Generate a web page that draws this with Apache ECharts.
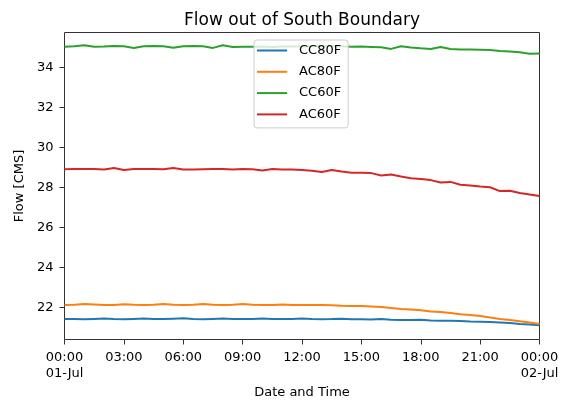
<!DOCTYPE html>
<html>
<head>
<meta charset="utf-8">
<script src="https://cdn.jsdelivr.net/npm/echarts@6/dist/echarts.min.js"></script>
<style>
  html, body { margin: 0; padding: 0; background: #fff; }
  #chart { width: 569px; height: 405px; }
</style>
</head>
<body>
<div id="chart"></div>
<script>
// Half-hourly flow at the south boundary, 01-Jul 00:00 to 02-Jul 00:00
const startMs = Date.UTC(2019, 6, 1, 0, 0);
const stepMs = 30 * 60 * 1000;

const seriesNames = ['CC80F', 'AC80F', 'CC60F', 'AC60F'];
const seriesColors = ['#1f77b4', '#ff7f0e', '#2ca02c', '#d62728'];

const cc80f = [21.42, 21.42, 21.41, 21.43, 21.45, 21.42, 21.41, 21.43, 21.45, 21.42,
  21.42, 21.44, 21.46, 21.42, 21.41, 21.43, 21.45, 21.42, 21.42, 21.42,
  21.45, 21.42, 21.42, 21.43, 21.45, 21.42, 21.41, 21.42, 21.44, 21.41,
  21.41, 21.40, 21.42, 21.39, 21.38, 21.37, 21.39, 21.35, 21.34, 21.34,
  21.33, 21.30, 21.29, 21.27, 21.25, 21.22, 21.18, 21.15, 21.11];

const ac80f = [22.13, 22.14, 22.17, 22.15, 22.13, 22.13, 22.16, 22.14, 22.13, 22.14,
  22.17, 22.14, 22.13, 22.14, 22.17, 22.14, 22.13, 22.14, 22.17, 22.14,
  22.13, 22.13, 22.15, 22.13, 22.12, 22.12, 22.13, 22.11, 22.09, 22.08,
  22.07, 22.05, 22.02, 21.98, 21.93, 21.90, 21.86, 21.80, 21.77, 21.72,
  21.66, 21.62, 21.57, 21.50, 21.43, 21.37, 21.31, 21.25, 21.18];

const cc60f = [35.04, 35.06, 35.11, 35.04, 35.05, 35.07, 35.06, 34.98, 35.06, 35.07,
  35.06, 34.99, 35.06, 35.07, 35.06, 34.98, 35.11, 35.03, 35.04, 35.04,
  35.05, 35.03, 35.05, 35.05, 35.05, 35.06, 35.07, 35.06, 35.06, 35.04,
  35.05, 35.03, 35.01, 34.93, 35.06, 35.00, 34.96, 34.93, 35.03, 34.92,
  34.90, 34.90, 34.89, 34.87, 34.83, 34.80, 34.76, 34.69, 34.70];

const ac60f = [28.91, 28.92, 28.93, 28.92, 28.90, 28.97, 28.88, 28.92, 28.93, 28.92,
  28.91, 28.97, 28.90, 28.90, 28.91, 28.92, 28.92, 28.90, 28.92, 28.91,
  28.85, 28.93, 28.90, 28.90, 28.88, 28.84, 28.77, 28.88, 28.80, 28.74,
  28.74, 28.72, 28.60, 28.65, 28.55, 28.46, 28.42, 28.37, 28.25, 28.28,
  28.14, 28.10, 28.05, 28.01, 27.82, 27.84, 27.73, 27.65, 27.57];

const yTicks = [22, 24, 26, 28, 30, 32, 34];
const seriesValues = [cc80f, ac80f, cc60f, ac60f];

const pad = n => (n < 10 ? '0' : '') + n;
const months = ['Jan','Feb','Mar','Apr','May','Jun','Jul','Aug','Sep','Oct','Nov','Dec'];

function toPoints(values) {
  return values.map((v, i) => [startMs + i * stepMs, v]);
}

const FONT = 'DejaVu Sans';
const chart = echarts.init(document.getElementById('chart'), null, { renderer: 'canvas' });

chart.setOption({
  animation: false,
  backgroundColor: '#ffffff',
  textStyle: { fontFamily: FONT },
  title: {
    text: 'Flow out of South Boundary',
    left: 297,
    top: 7,
    textAlign: 'center',
    textStyle: { fontFamily: FONT, fontSize: 17, fontWeight: 'normal', color: '#000' }
  },
  grid: {
    left: 64.5, right: 29.5, top: 32.5, bottom: 65.5,
    show: true, borderColor: '#333', borderWidth: 1, backgroundColor: 'transparent'
  },
  legend: {
    orient: 'vertical',
    left: 254, top: 40,
    padding: [3, 7, 6, 3],
    itemGap: 6.3,
    itemWidth: 30,
    itemHeight: 2,
    icon: 'rect',
    backgroundColor: 'rgba(255,255,255,0.8)',
    borderColor: '#cccccc',
    borderWidth: 1,
    borderRadius: 3,
    data: seriesNames,
    textStyle: { fontFamily: FONT, fontSize: 13, color: '#000', lineHeight: 15, padding: [0, 0, 0, 7] }
  },
  xAxis: {
    type: 'value',
    min: startMs,
    max: startMs + 24 * 3600 * 1000,
    interval: 3 * 3600 * 1000,
    name: 'Date and Time',
    nameLocation: 'middle',
    nameGap: 45.5,
    nameTextStyle: { fontFamily: FONT, fontSize: 13, color: '#000' },
    axisLine: { show: false },
    axisTick: { show: true, length: 5, inside: false, lineStyle: { color: '#333', width: 1 } },
    splitLine: { show: false },
    axisLabel: {
      margin: 10,
      fontFamily: FONT, fontSize: 13, color: '#000', lineHeight: 16,
      showMinLabel: true, showMaxLabel: true,
      formatter: function (val) {
        const d = new Date(val);
        const hm = pad(d.getUTCHours()) + ':' + pad(d.getUTCMinutes());
        if (d.getUTCHours() === 0) {
          return hm + '\n' + pad(d.getUTCDate()) + '-' + months[d.getUTCMonth()];
        }
        return hm;
      }
    }
  },
  yAxis: {
    type: 'value',
    min: 20.4,
    max: 35.75,
    name: 'Flow [CMS]',
    nameLocation: 'middle',
    nameGap: 34,
    nameTextStyle: { fontFamily: FONT, fontSize: 13, color: '#000' },
    axisLine: { show: false },
    axisTick: { show: true, length: 5, customValues: yTicks, lineStyle: { color: '#333', width: 1 } },
    splitLine: { show: false },
    axisLabel: {
      margin: 11,
      customValues: yTicks,
      fontFamily: FONT, fontSize: 13, color: '#000'
    }
  },
  series: seriesNames.map((name, i) => ({
    name: name,
    type: 'line',
    data: toPoints(seriesValues[i]),
    showSymbol: false,
    symbol: 'none',
    smooth: false,
    color: seriesColors[i],
    lineStyle: { color: seriesColors[i], width: 2 },
    z: 2
  }))
});
</script>
</body>
</html>
